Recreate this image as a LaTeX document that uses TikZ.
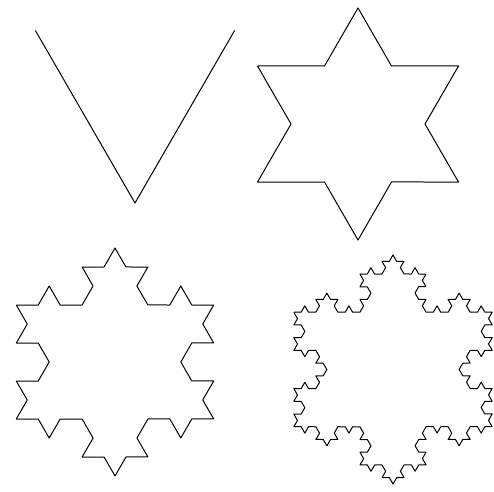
\documentclass[tikz,border=0pt]{standalone}
\usetikzlibrary{decorations.fractals}
\begin{document}
\begin{tikzpicture}[x=1pt, y=1pt, decoration=Koch snowflake,
    curve/.style={line width=1pt, line join=round}]
    \useasboundingbox (0,0) rectangle (494,491);

    \coordinate (A0) at (35.4, 460.5);
    \coordinate (B0) at (234.6, 460.5);
    \coordinate (C0) at (135.0, 288.0);

    \coordinate (A1) at (257.5, 425.0);
    \coordinate (B1) at (458.5, 425.0);
    \coordinate (C1) at (358.0, 251.0);

    \coordinate (A2) at (16.3, 186.0);
    \coordinate (B2) at (213.7, 186.0);
    \coordinate (C2) at (115.0, 15.0);

    \coordinate (A3) at (293.8, 178.8);
    \coordinate (B3) at (492.2, 178.8);
    \coordinate (C3) at (393.0, 7.0);

    \draw[curve] (A0) -- (C0) -- (B0);
    \draw[curve] decorate{ (A1) -- (B1) -- (C1) -- (A1) };
    \draw[curve] decorate{ decorate{ (A2) -- (B2) -- (C2) -- (A2) } };
    \draw[curve] decorate{ decorate{ decorate{ (A3) -- (B3) -- (C3) -- (A3) } } };
  \end{tikzpicture}
\end{document}
